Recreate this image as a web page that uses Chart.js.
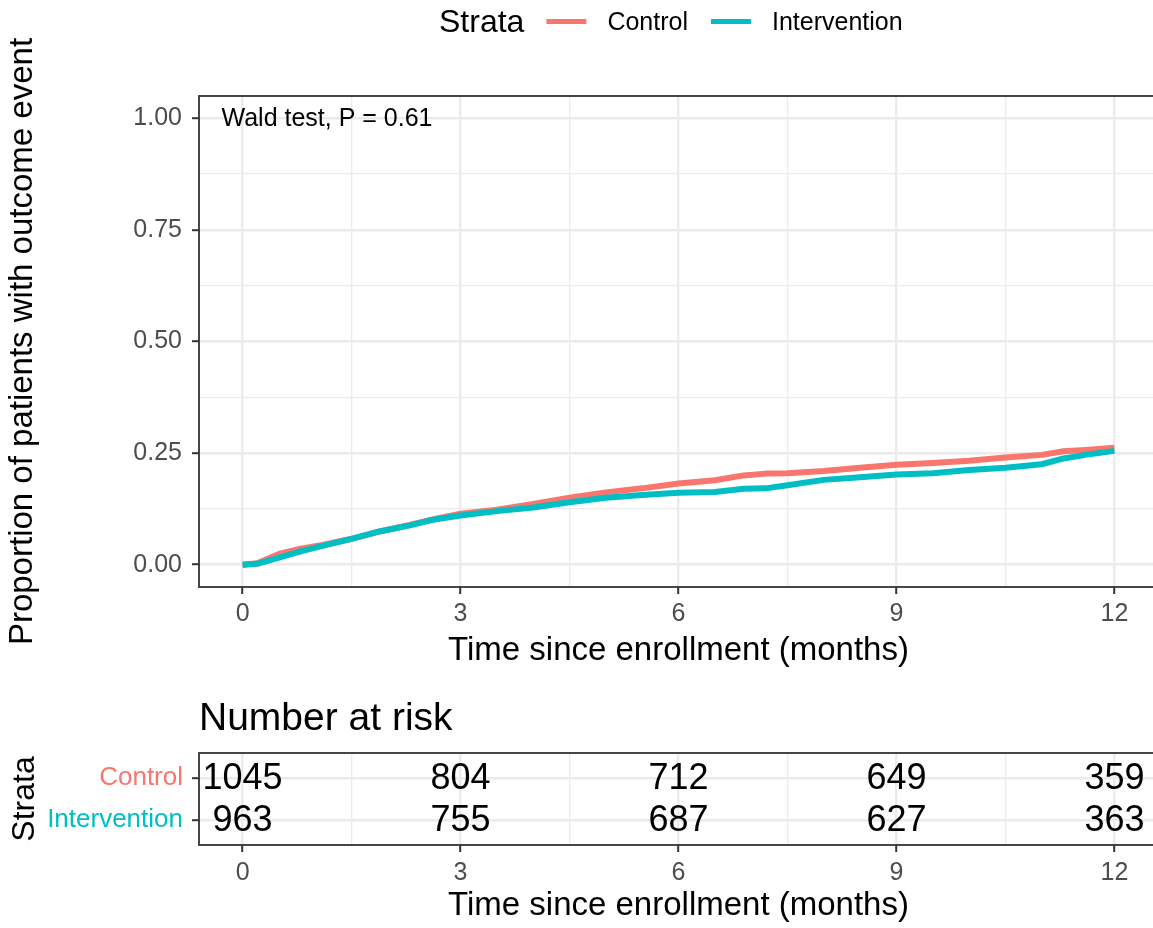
<!DOCTYPE html>
<html>
<head>
<meta charset="utf-8">
<script src="https://cdn.jsdelivr.net/npm/chart.js@4.4.1/dist/chart.umd.min.js"></script>
<style>
html, body { margin: 0; padding: 0; background: #ffffff; overflow: hidden; width: 1153px; height: 928px; }
canvas { position: absolute; left: 0; }
#mainChart { top: 0; }
#riskChart { top: 680px; }
</style>
</head>
<body>
<canvas id="mainChart" width="1160" height="680"></canvas>
<canvas id="riskChart" width="1160" height="248"></canvas>
<script>
// ---------------- data ----------------
const strata = ['Control', 'Intervention'];
const strataColors = ['#F8766D', '#00BFC4'];
const times = [0, 0.2, 0.5, 0.8, 1.1, 1.5, 1.9, 2.3, 2.6, 3.0, 3.5, 4.0, 4.5, 5.0, 5.5, 6.0, 6.5, 6.9, 7.2, 7.5, 8.0, 8.5, 9.0, 9.5, 10.0, 10.5, 11.0, 11.3, 11.6, 12.0];
const controlValues = [0, 0.003, 0.024, 0.036, 0.044, 0.058, 0.075, 0.089, 0.101, 0.114, 0.123, 0.136, 0.150, 0.162, 0.171, 0.182, 0.189, 0.200, 0.204, 0.205, 0.210, 0.217, 0.224, 0.228, 0.233, 0.240, 0.246, 0.254, 0.257, 0.262];
const interventionValues = [0, 0.002, 0.016, 0.030, 0.042, 0.058, 0.075, 0.088, 0.100, 0.110, 0.120, 0.128, 0.140, 0.150, 0.156, 0.161, 0.163, 0.170, 0.171, 0.178, 0.190, 0.196, 0.202, 0.205, 0.212, 0.217, 0.225, 0.238, 0.246, 0.255];
const xTickValues = [0, 3, 6, 9, 12];
const yTickValues = [0, 0.25, 0.5, 0.75, 1];
const riskTimes = [0, 3, 6, 9, 12];
const riskControl = [1045, 804, 712, 649, 359];
const riskIntervention = [963, 755, 687, 627, 363];
const pValueText = 'Wald test, P = 0.61';
const legendTitle = 'Strata';
const yTitle = 'Proportion of patients with outcome event';
const xTitle = 'Time since enrollment (months)';
const riskTitle = 'Number at risk';

// ---------------- helpers ----------------
const FONT = '"Liberation Sans", Arial, Helvetica, sans-serif';
Chart.defaults.font.family = FONT;
function withMinor(arr) {
  const out = [];
  for (let i = 0; i < arr.length; i++) {
    out.push(arr[i]);
    if (i < arr.length - 1) out.push((arr[i] + arr[i + 1]) / 2);
  }
  return out;
}
const isIn = (arr, v) => arr.some(a => Math.abs(a - v) < 1e-9);
const GRID = '#EBEBEB';
const DARK = '#333333';

function xScaleOptions(height, tickPad, titlePadBottom) {
  return {
    type: 'linear', min: -0.6, max: 12.6,
    afterBuildTicks: s => { s.ticks = withMinor(xTickValues).map(v => ({ value: v })); },
    afterFit: s => { s.height = height; },
    border: { display: false },
    grid: {
      color: GRID,
      lineWidth: c => isIn(xTickValues, c.tick.value) ? 2.4 : 1.3,
      tickColor: c => isIn(xTickValues, c.tick.value) ? DARK : 'rgba(0,0,0,0)',
      tickLength: 7, tickWidth: 2
    },
    ticks: {
      autoSkip: false, maxRotation: 0, padding: tickPad,
      color: '#4D4D4D', font: { size: 25 },
      callback: v => isIn(xTickValues, v) ? String(v) : ''
    },
    title: { display: true, text: xTitle, color: '#000', font: { size: 33, lineHeight: 1 }, padding: { top: 0, bottom: titlePadBottom } }
  };
}

const panelBorder = {
  id: 'panelBorder',
  afterDraw(chart) {
    const a = chart.chartArea, ctx = chart.ctx;
    ctx.save();
    ctx.strokeStyle = DARK; ctx.lineWidth = 1.8;
    ctx.strokeRect(a.left, a.top, a.right - a.left, a.bottom - a.top);
    ctx.restore();
  }
};

const strataLegend = {
  id: 'strataLegend',
  afterDraw(chart) {
    const ctx = chart.ctx;
    ctx.save();
    ctx.textBaseline = 'middle'; ctx.textAlign = 'left'; ctx.fillStyle = '#000';
    let x = 439; const y = 23;
    ctx.font = '32px ' + FONT;
    ctx.fillText(legendTitle, x, y);
    x += ctx.measureText(legendTitle).width + 22;
    chart.data.datasets.forEach(ds => {
      ctx.strokeStyle = ds.borderColor; ctx.lineWidth = 5;
      ctx.beginPath(); ctx.moveTo(x, y - 1.5); ctx.lineTo(x + 40, y - 1.5); ctx.stroke();
      x += 61;
      ctx.font = '25px ' + FONT;
      ctx.fillText(ds.label, x, y);
      x += ctx.measureText(ds.label).width + 23;
    });
    ctx.restore();
  }
};

const pValueNote = {
  id: 'pValueNote',
  afterDatasetsDraw(chart) {
    const ctx = chart.ctx, xs = chart.scales.x, ys = chart.scales.y;
    ctx.save();
    ctx.font = '25px ' + FONT; ctx.fillStyle = '#000';
    ctx.textAlign = 'left'; ctx.textBaseline = 'middle';
    ctx.fillText(pValueText, xs.getPixelForValue(-0.29), ys.getPixelForValue(1.0) + 1);
    ctx.restore();
  }
};

// ---------------- main plot ----------------
new Chart(document.getElementById('mainChart'), {
  type: 'line',
  data: {
    datasets: [
      { label: strata[0], data: times.map((t, i) => ({ x: t, y: controlValues[i] })), borderColor: strataColors[0], backgroundColor: strataColors[0], borderWidth: 6, pointRadius: 0, tension: 0, fill: false, order: 1, borderJoinStyle: 'round' },
      { label: strata[1], data: times.map((t, i) => ({ x: t, y: interventionValues[i] })), borderColor: strataColors[1], backgroundColor: strataColors[1], borderWidth: 6, pointRadius: 0, tension: 0, fill: false, order: 0, borderJoinStyle: 'round' }
    ]
  },
  options: {
    responsive: false, animation: false, devicePixelRatio: 1,
    layout: { padding: { top: 96, right: 2, left: 0, bottom: 0 } },
    plugins: { legend: { display: false }, tooltip: { enabled: false } },
    scales: {
      x: xScaleOptions(93, 5, 13),
      y: {
        type: 'linear', min: -0.05, max: 1.05,
        afterBuildTicks: s => { s.ticks = withMinor(yTickValues).map(v => ({ value: v })); },
        afterFit: s => { s.width = 199; },
        border: { display: false },
        grid: {
          color: GRID,
          lineWidth: c => isIn(yTickValues, c.tick.value) ? 2.4 : 1.3,
          tickColor: c => isIn(yTickValues, c.tick.value) ? DARK : 'rgba(0,0,0,0)',
          tickLength: 7, tickWidth: 2
        },
        ticks: {
          autoSkip: false, padding: 10, color: '#4D4D4D', font: { size: 25 },
          callback: v => isIn(yTickValues, v) ? v.toFixed(2) : ''
        },
        title: { display: true, text: yTitle, color: '#000', font: { size: 33, lineHeight: 1 }, padding: { top: 6.5, bottom: 0 } }
      }
    }
  },
  plugins: [panelBorder, strataLegend, pValueNote]
});

// ---------------- risk table ----------------
const riskRows = [2, 1];
const riskCounts = [riskControl, riskIntervention];

const riskTitlePlugin = {
  id: 'riskTitlePlugin',
  afterDraw(chart) {
    const ctx = chart.ctx;
    ctx.save();
    ctx.font = '39px ' + FONT; ctx.fillStyle = '#000';
    ctx.textAlign = 'left'; ctx.textBaseline = 'middle';
    ctx.fillText(riskTitle, chart.chartArea.left, 39);
    ctx.restore();
  }
};
const riskNumbers = {
  id: 'riskNumbers',
  afterDatasetsDraw(chart) {
    const ctx = chart.ctx;
    ctx.save();
    ctx.font = '36px ' + FONT; ctx.fillStyle = '#000';
    ctx.textAlign = 'center'; ctx.textBaseline = 'middle';
    chart.data.datasets.forEach((ds, di) => {
      const meta = chart.getDatasetMeta(di);
      meta.data.forEach((el, i) => {
        ctx.fillText(String(ds.data[i].n), el.x, el.y + 1);
      });
    });
    ctx.restore();
  }
};

new Chart(document.getElementById('riskChart'), {
  type: 'scatter',
  data: {
    datasets: strata.map((s, si) => ({
      label: s,
      data: riskTimes.map((t, i) => ({ x: t, y: riskRows[si], n: riskCounts[si][i] })),
      pointRadius: 0, showLine: false, borderColor: strataColors[si], backgroundColor: strataColors[si]
    }))
  },
  options: {
    responsive: false, animation: false, devicePixelRatio: 1,
    layout: { padding: { top: 73, right: 2, left: 0, bottom: 0 } },
    plugins: { legend: { display: false }, tooltip: { enabled: false } },
    scales: {
      x: xScaleOptions(83, 6, 5.5),
      y: {
        type: 'linear', min: 0.4, max: 2.6,
        afterBuildTicks: s => { s.ticks = riskRows.map(v => ({ value: v })); },
        afterFit: s => { s.width = 199; },
        border: { display: false },
        grid: { color: GRID, lineWidth: 2.4, tickColor: DARK, tickLength: 7, tickWidth: 2 },
        ticks: {
          autoSkip: false, padding: 9, font: { size: 26 },
          color: c => strataColors[riskRows.indexOf(c.tick.value)] || '#000',
          callback: v => strata[riskRows.indexOf(v)] || ''
        },
        title: { display: true, text: legendTitle, color: '#000', font: { size: 32, lineHeight: 1 }, padding: { top: 9, bottom: 0 } }
      }
    }
  },
  plugins: [panelBorder, riskTitlePlugin, riskNumbers]
});
</script>
</body>
</html>
